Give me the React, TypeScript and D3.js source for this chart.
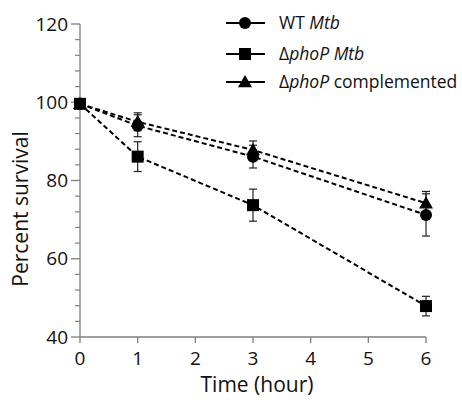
import React from "react";
import * as d3 from "d3";

const times = [0, 1, 3, 6];
const wtValues = [99.6, 94.0, 86.1, 71.2];
const wtErrors = [0.8, 2.8, 2.9, 5.4];
const phoPValues = [99.6, 86.1, 73.7, 47.9];
const phoPErrors = [0.8, 3.8, 4.1, 2.5];
const compValues = [99.6, 95.0, 87.8, 74.2];
const compErrors = [0.8, 2.3, 2.3, 3.0];
const xTicks = [0, 1, 2, 3, 4, 5, 6];
const yMajorTicks = [40, 60, 80, 100, 120];

const W = 462;
const H = 400;
const FONT = "'Open Sans', 'Noto Sans', sans-serif";

type Series = { key: string; values: number[]; errors: number[]; marker: "circle" | "square" | "triangle" };
const series: Series[] = [
  { key: "wt", values: wtValues, errors: wtErrors, marker: "circle" },
  { key: "phoP", values: phoPValues, errors: phoPErrors, marker: "square" },
  { key: "comp", values: compValues, errors: compErrors, marker: "triangle" },
];

function Marker({ type, x, y }: { type: string; x: number; y: number }) {
  if (type === "circle") return <circle cx={x} cy={y} r={6} fill="#000" />;
  if (type === "square") return <rect x={x - 6} y={y - 6} width={12} height={12} fill="#000" />;
  const s = 7;
  return <path d={`M${x},${y - s}L${x + s},${y + s * 0.75}L${x - s},${y + s * 0.75}Z`} fill="#000" />;
}

export default function App() {
  const x = d3.scaleLinear().domain([0, 6]).range([80, 426]);
  const y = d3.scaleLinear().domain([40, 120]).range([337, 24]);
  const minor = d3.range(40, 121, 4).filter((v) => v % 20 !== 0);
  const line = d3
    .line<number>()
    .x((_, i) => x(times[i]))
    .y((v) => y(v));
  const axisColor = "#7f7f7f";

  return (
    <svg width={W} height={H} style={{ position: "absolute", left: 0, top: 0, background: "#fff" }}>
      {/* axes */}
      <line x1={x(0)} x2={x(0)} y1={y(120)} y2={y(40)} stroke={axisColor} strokeWidth={1.3} />
      <line x1={x(0)} x2={x(6)} y1={y(40)} y2={y(40)} stroke={axisColor} strokeWidth={1.3} />
      {yMajorTicks.map((t) => (
        <g key={t}>
          <line x1={x(0) - 9} x2={x(0)} y1={y(t)} y2={y(t)} stroke={axisColor} strokeWidth={1.3} />
          <text x={68} y={y(t)} dy="0.35em" textAnchor="end" fontFamily={FONT} fontSize={19} fill="#111">
            {t}
          </text>
        </g>
      ))}
      {minor.map((t) => (
        <line key={t} x1={x(0) - 5} x2={x(0)} y1={y(t)} y2={y(t)} stroke={axisColor} strokeWidth={1.2} />
      ))}
      {xTicks.map((t) => (
        <g key={t}>
          <line x1={x(t)} x2={x(t)} y1={y(40)} y2={y(40) + 6} stroke={axisColor} strokeWidth={1.3} />
          <text x={x(t)} y={365} textAnchor="middle" fontFamily={FONT} fontSize={19} fill="#111">
            {t}
          </text>
        </g>
      ))}
      <text x={257} y={392} textAnchor="middle" fontFamily={FONT} fontSize={21} fill="#111">
        Time (hour)
      </text>
      <text
        transform={`translate(28,209) rotate(-90)`}
        textAnchor="middle"
        fontFamily={FONT}
        fontSize={21}
        fill="#111"
      >
        Percent survival
      </text>

      {/* lines */}
      {series.map((s) => (
        <path
          key={s.key}
          d={line(s.values) || ""}
          fill="none"
          stroke="#000"
          strokeWidth={2}
          strokeDasharray="5,3"
        />
      ))}
      {/* error bars */}
      {series.map((s) =>
        s.values.map((v, i) => {
          const cx = x(times[i]);
          const top = y(v + s.errors[i]);
          const bot = y(v - s.errors[i]);
          return (
            <g key={`${s.key}-e${i}`} stroke="#222" strokeWidth={1.2}>
              <line x1={cx} x2={cx} y1={top} y2={bot} />
              <line x1={cx - 4} x2={cx + 4} y1={top} y2={top} />
              <line x1={cx - 4} x2={cx + 4} y1={bot} y2={bot} />
            </g>
          );
        })
      )}
      {/* markers */}
      {series.map((s) =>
        s.values.map((v, i) => <Marker key={`${s.key}-m${i}`} type={s.marker} x={x(times[i])} y={y(v)} />)
      )}

      {/* legend */}
      {[
        { m: "circle", y: 23, label: <>WT <tspan fontStyle="italic">Mtb</tspan></> },
        { m: "square", y: 54, label: <>Δ<tspan fontStyle="italic">phoP Mtb</tspan></> },
        { m: "triangle", y: 82, label: <>Δ<tspan fontStyle="italic">phoP</tspan> complemented</> },
      ].map((l, i) => (
        <g key={i}>
          <line x1={226} x2={265} y1={l.y} y2={l.y} stroke="#000" strokeWidth={2} />
          <Marker type={l.m} x={245} y={l.y} />
          <text x={279} y={l.y} dy="0.35em" fontFamily={FONT} fontSize={17.5} fill="#111">
            {l.label}
          </text>
        </g>
      ))}
    </svg>
  );
}
